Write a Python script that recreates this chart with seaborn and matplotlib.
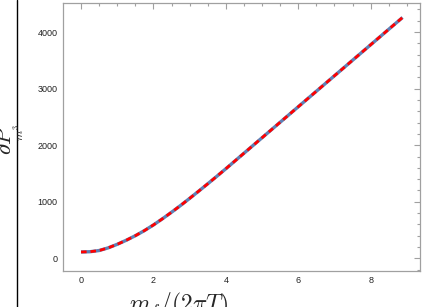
import numpy as np
import pandas as pd
import matplotlib
matplotlib.use("Agg")
import matplotlib.pyplot as plt
from matplotlib.lines import Line2D
from matplotlib.ticker import MultipleLocator
import seaborn as sns

# values
mf = [0.0, 0.25, 0.5, 0.75, 1.0, 1.25, 1.5, 1.75, 2.0, 2.25, 2.5,
      2.75, 3.0, 3.25, 3.5, 3.75, 4.0, 4.5, 5.0, 5.5, 6.0, 6.5,
      7.0, 7.5, 8.0, 8.5, 8.88]
dP = [112, 117, 138, 185, 248, 320, 400, 490, 590, 700, 815,
      935, 1060, 1188, 1318, 1450, 1584, 1858, 2132, 2406, 2680, 2954,
      3228, 3502, 3776, 4050, 4258]

df = pd.DataFrame({"mf": mf, "dP": dP})

sns.set_style("white")
plt.rcParams["font.family"] = ["Liberation Sans", "DejaVu Sans"]
plt.rcParams["mathtext.fontset"] = "cm"

fig = plt.figure(figsize=(4.24, 3.07), dpi=100)
ax = fig.add_axes([0.1493, 0.1182, 0.9913 - 0.1493, 0.989 - 0.1182])

sns.lineplot(data=df, x="mf", y="dP", ax=ax, color="#5E81B5", lw=2.4)
sns.lineplot(data=df, x="mf", y="dP", ax=ax, color="#FF0000", lw=2.0)
ax.lines[-1].set_dashes((2.0, 1.4))
for ln in ax.lines:
    ln.set_solid_capstyle("butt")
    ln.set_dash_capstyle("butt")

ax.set_xlim(-0.49, 9.37)
ax.set_ylim(-219, 4507)
ax.xaxis.set_major_locator(MultipleLocator(2))
ax.xaxis.set_minor_locator(MultipleLocator(0.5))
ax.yaxis.set_major_locator(MultipleLocator(1000))
ax.yaxis.set_minor_locator(MultipleLocator(200))

gray = "#a0a0a0"
for s in ax.spines.values():
    s.set_color(gray)
    s.set_linewidth(0.9)
ax.tick_params(which="both", direction="in", top=True, right=True,
               color=gray, width=0.8, labelsize=6.5, labelcolor="#222222")
ax.tick_params(which="major", length=4, pad=4)
ax.tick_params(which="minor", length=2)
ax.set_xlabel("")
ax.set_ylabel("")

# axis labels, placed as in the reference (partly cut by the figure edge)
fig.text(0.421, -0.012, r"$m_f/(2\pi T)$", fontsize=17, ha="center",
         va="baseline")
fig.text(6.0 / 424, 1 - 140 / 307, r"$\partial P$", fontsize=16,
         rotation=90, ha="center", va="center")
fig.text(19.0 / 424, 1 - 133 / 307, r"$m^3$", fontsize=8.5,
         rotation=90, ha="center", va="center")
fig.add_artist(Line2D([16.7 / 424, 16.7 / 424], [0, 1], color="black",
                      lw=1.0, transform=fig.transFigure))

fig.savefig("out.png", dpi=100)
